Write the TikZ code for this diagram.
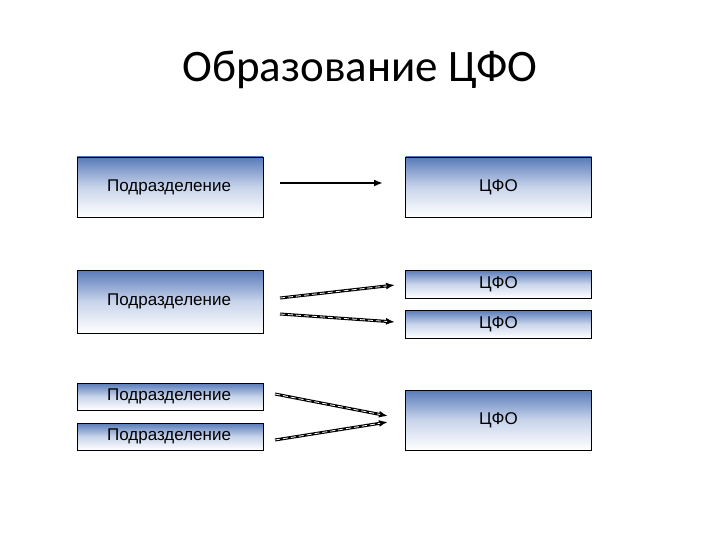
\documentclass[tikz,border=0pt]{standalone}
\usepackage{fontspec}
\setmainfont{Carlito}
\setsansfont{Liberation Sans}
\usetikzlibrary{arrows.meta}
\begin{document}
\begin{tikzpicture}[x=1pt,y=-1pt,
  lbl/.style={font=\sffamily\fontsize{17}{20}\selectfont},
  box/.style={draw=black,line width=0.8pt,top color={rgb,255:red,88;green,122;blue,184},bottom color=white,middle color={rgb,255:red,200;green,212;blue,235},minimum height=#1,minimum width=186pt,inner sep=0pt,lbl},
  box/.default=60pt,
  arr/.style={-{Latex[length=9pt,width=7pt]},line width=2.2pt},
  darr/.style={-{Latex[length=9pt,width=7pt]},line width=3pt,postaction={draw=white,line width=0.8pt,dash pattern=on 5pt off 3pt,shorten >=8pt,-}}]
\useasboundingbox (0,0) rectangle (720,540);
\node[font=\fontsize{45}{54}\selectfont] (t) at (360,70) {Образование ЦФО};
\node[box] (l1) at (170,187) {};
\node[lbl,anchor=west] (tl1) at ([xshift=27pt]l1.west) {Подразделение};
\node[box=63pt] (l2) at (170,301.5) {};
\node[lbl,anchor=west] (tl2) at ([xshift=27pt]l2.west) {Подразделение};
\node[box=27pt] (l3) at (170,396.5) {};
\node[lbl,anchor=west] (tl3) at ([xshift=27pt]l3.west) {Подразделение};
\node[box=27pt] (l4) at (170,436.5) {};
\node[lbl,anchor=west] (tl4) at ([xshift=27pt]l4.west) {Подразделение};
\node[box] (r1) at (498.5,187) {ЦФО};
\node[box=28pt] (r2) at (498.5,284) {ЦФО};
\node[box=28pt] (r3) at (498.5,324) {ЦФО};
\node[box] (r4) at (498.5,420) {ЦФО};
\coordinate (a1) at (280,183); \coordinate (b1) at (383,183);
\coordinate (a2) at (280,298); \coordinate (b2) at (395,285);
\coordinate (a3) at (280,314); \coordinate (b3) at (395,322);
\coordinate (a4) at (275,394); \coordinate (b4) at (388,416);
\coordinate (a5) at (275,440); \coordinate (b5) at (388,422);
\draw[arr] (a1) -- (b1);
\draw[darr] (a2) -- (b2);
\draw[darr] (a3) -- (b3);
\draw[darr] (a4) -- (b4);
\draw[darr] (a5) -- (b5);
\end{tikzpicture}
\end{document}
